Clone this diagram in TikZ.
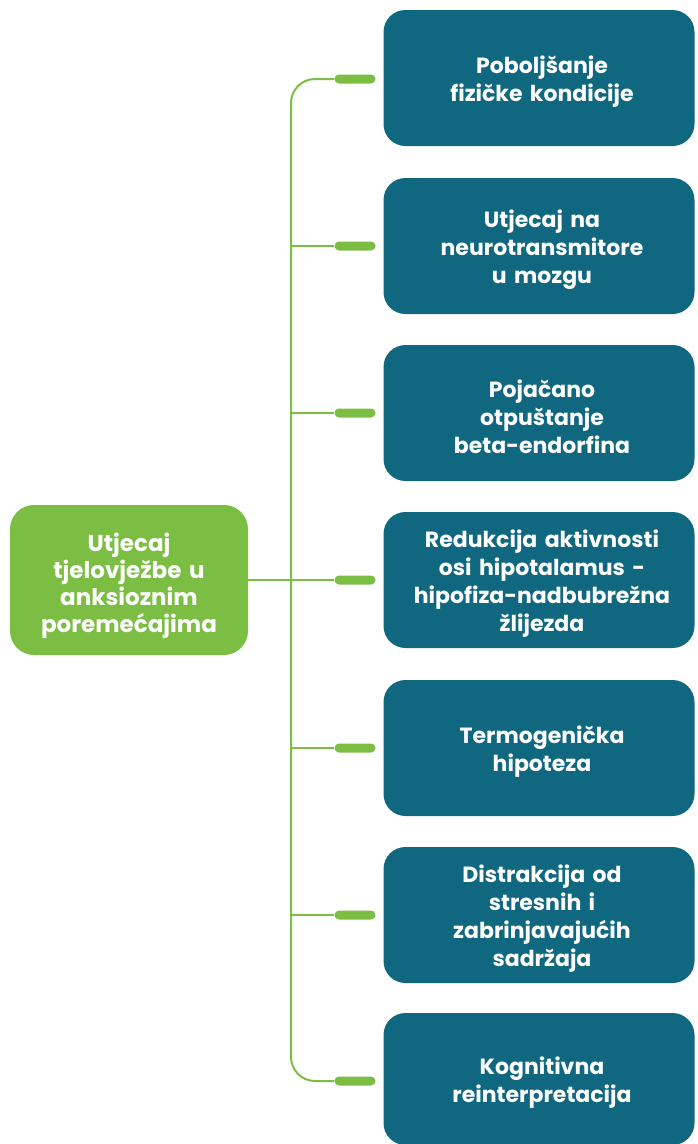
\documentclass[tikz,border=0pt]{standalone}
\usepackage{fontspec}
\setmainfont{Poppins}
\definecolor{boxblue}{RGB}{16,104,128}
\definecolor{rootgreen}{RGB}{124,190,68}
\begin{document}
\begin{tikzpicture}[x=1pt,y=-1pt,
  leaf/.style={fill=boxblue, rounded corners=22pt, minimum width=311pt, minimum height=136pt, inner sep=0pt},
  leaftext/.style={text=white, font=\bfseries\fontsize{22}{28}\selectfont, align=center, inner sep=0pt, text width=300pt},
  root/.style={fill=rootgreen, rounded corners=24pt, minimum width=238pt, minimum height=150pt, inner sep=0pt},
  roottext/.style={text=white, font=\bfseries\fontsize{23}{27}\selectfont, align=center, inner sep=0pt, text width=230pt},
  pill/.style={fill=rootgreen, rounded corners=4.5pt, minimum width=41pt, minimum height=9pt, inner sep=0pt},
  conn/.style={draw=rootgreen, line width=2pt}]
\useasboundingbox (0,0) rectangle (697,1144);
\node[root] (r) at (129,580) {};
\node[roottext] (rt) at ([yshift=-6pt]r.center) {Utjecaj\\tjelovježbe u\\anksioznim\\poremećajima};
\node[leaf] (b1) at (539,78) {};
\node[leaf] (b2) at (539,246) {};
\node[leaf] (b3) at (539,413) {};
\node[leaf] (b4) at (539,580) {};
\node[leaf] (b5) at (539,748) {};
\node[leaf] (b6) at (539,915) {};
\node[leaf, minimum height=132pt] (b7) at (539,1079) {};
\foreach \i/\t in {1/{Poboljšanje\\fizičke kondicije},
                   2/{Utjecaj na\\neurotransmitore\\u mozgu},
                   3/{Pojačano\\otpuštanje\\beta-endorfina},
                   4/{Redukcija aktivnosti\\osi hipotalamus -\\hipofiza-nadbubrežna\\žlijezda},
                   5/{Termogenička\\hipoteza},
                   6/{Distrakcija od\\stresnih i\\zabrinjavajućih\\sadržaja},
                   7/{Kognitivna\\reinterpretacija}}
  \node[leaftext] (t\i) at ([xshift=3pt,yshift=-4pt]b\i.center) {\t};
\foreach \i/\y in {1/79,2/246,3/413,4/580,5/748,6/915,7/1081}
  \node[pill] (p\i) at (355,\y) {};
\coordinate (j) at (291,580);
\draw[conn, rounded corners=24pt] (p1.west) -| (j) |- (p7.west);
\draw[conn] (r.east) -- (j);
\foreach \i in {2,...,6}
  \draw[conn] (j |- p\i) -- (p\i.west);
\end{tikzpicture}
\end{document}
